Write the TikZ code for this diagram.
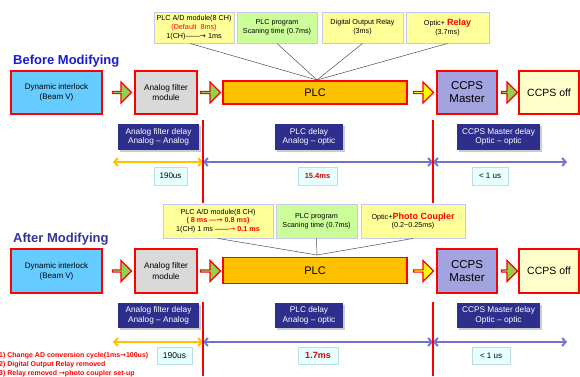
\documentclass[tikz,border=0pt]{standalone}
\usepackage{fontspec}
\setmainfont{Liberation Sans}
\newfontfamily\symfont{DejaVu Sans}
\usetikzlibrary{shapes.arrows,shadows,arrows.meta}
\definecolor{ylw}{HTML}{FFFF99}
\definecolor{grn}{HTML}{CCFF99}
\definecolor{lav}{HTML}{C8C8E8}
\definecolor{skyb}{HTML}{66CCFF}
\definecolor{gryb}{HTML}{D9D9D9}
\definecolor{plcc}{HTML}{FFC000}
\definecolor{mstc}{HTML}{A3A3E0}
\definecolor{offc}{HTML}{FFFFCC}
\definecolor{agrn}{HTML}{92D050}
\definecolor{ayel}{HTML}{FFFF00}
\definecolor{navy}{HTML}{2E2E8C}
\definecolor{barr}{HTML}{7373CF}
\definecolor{oarr}{HTML}{FFC000}
\definecolor{befc}{HTML}{1A1AD6}
\definecolor{aftc}{HTML}{333399}
\definecolor{valf}{HTML}{E6FFFF}
\definecolor{valb}{HTML}{BFDCE6}
\newcommand{\rarr}{{\symfont\char"2192}}
\begin{document}
\begin{tikzpicture}[x=1pt,y=-1pt,
  topbox/.style={draw=lav, line width=0.9pt, fill=ylw, align=center, inner sep=0pt,
     font=\fontsize{7.2}{8.8}\selectfont},
  mainbox/.style={draw=red, line width=1.5pt, align=center, inner sep=0pt},
  barrow/.style={single arrow, draw=red, line width=1.2pt, inner sep=0pt,
     minimum width=21pt, single arrow head extend=5pt, single arrow tip angle=90,
     fill=agrn},
  delaybox/.style={fill=navy, text=white, align=center, inner sep=0pt,
     font=\fontsize{8.3}{9.6}\selectfont,
     drop shadow={shadow xshift=1.5pt, shadow yshift=-1.5pt, fill=black!25, opacity=0.8}},
  valbox/.style={fill=valf, draw=valb, line width=0.5pt, align=center, inner sep=0pt,
     font=\fontsize{8}{9}\selectfont,
     drop shadow={shadow xshift=1.2pt, shadow yshift=-1.2pt, fill=black!20, opacity=0.8}},
  redline/.style={draw=red, line width=1.2pt},
  thin/.style={draw=black!70, line width=0.5pt},
  darr/.style={line width=2pt, {Straight Barb[length=3.5pt,width=8pt]}-{Straight Barb[length=3.5pt,width=8pt]}},
  title/.style={font=\fontsize{13}{15}\selectfont\bfseries, anchor=west, inner sep=0pt},
  note/.style={anchor=base west, inner sep=0pt, text=red, font=\fontsize{7}{8}\selectfont\bfseries}
]
\useasboundingbox (0,0) rectangle (580,376);

% ================= BEFORE =================
\node[topbox, minimum width=80pt, minimum height=31pt] (ua) at (194,27.5)
  {PLC A/D module(8 CH)\\ \textcolor{red}{(Default\ \ 8ms)}\\ 1(CH)------\rarr\ 1ms};
\node[topbox, fill=grn, minimum width=80pt, minimum height=31pt] (ub) at (277,27.5)
  {PLC program\\ Scaning time (0.7ms)};
\node[topbox, minimum width=81pt, minimum height=31pt] (uc) at (362.5,27.5)
  {Digital Output Relay\\ (3ms)};
\node[topbox, minimum width=83pt, minimum height=31pt] (ud) at (447.5,27.5)
  {Optic+ {\color{red}\bfseries\fontsize{9}{10}\selectfont Relay}\\ (3.7ms)};

\node[title, text=befc] (bt) at (13,61.5) {Before Modifying};

\node[mainbox, fill=skyb, minimum width=91pt, minimum height=43pt,
  font=\fontsize{8}{10}\selectfont] (u1) at (56.5,92.5) {Dynamic interlock\\ (Beam V)};
\node[mainbox, fill=gryb, minimum width=62pt, minimum height=43pt,
  font=\fontsize{8.3}{10.5}\selectfont] (u2) at (166,92.5) {Analog filter\\ module};
\node[mainbox, fill=plcc, minimum width=184pt, minimum height=23pt,
  font=\fontsize{11}{13}\selectfont] (u3) at (315,92.5) {PLC};
\node[mainbox, fill=mstc, minimum width=60pt, minimum height=43pt,
  font=\fontsize{11.5}{13}\selectfont] (u4) at (467,92.5) {CCPS\\ Master};
\node[mainbox, fill=offc, minimum width=60pt, minimum height=43pt,
  font=\fontsize{10.5}{12}\selectfont] (u5) at (549,92.5) {CCPS off};

\node[barrow, minimum height=19pt] (ua1) at (121.5,92.5) {};
\node[barrow, minimum height=20pt] (ua2) at (210,92.5) {};
\node[barrow, fill=ayel, minimum height=20pt] (ua3) at (423,92.5) {};
\node[barrow, minimum height=16pt] (ua4) at (509,92.5) {};

\coordinate (uj) at (317,80);
\draw[thin] ([xshift=-4pt]ua.south) -- (uj);
\draw[thin] (ub.south) -- (uj);
\draw[thin] (uc.south) -- (uj);
\draw[thin] (ud.south) -- (uj);

\node[delaybox, minimum width=81pt, minimum height=26pt] (ud1) at (158.5,137)
  {Analog filter delay\\ Analog -- Analog};
\node[delaybox, minimum width=68pt, minimum height=26pt] (ud2) at (309,137)
  {PLC delay\\ Analog -- optic};
\node[delaybox, minimum width=83pt, minimum height=26pt] (ud3) at (498.5,137)
  {CCPS Master delay\\ Optic -- optic};

\coordinate (ur1t) at (203,120); \coordinate (ur1b) at (203,203);
\coordinate (ur2t) at (433,120); \coordinate (ur2b) at (433,203);
\coordinate (uy0) at (113,162); \coordinate (uy1) at (203,162);
\coordinate (uy2) at (433,162); \coordinate (uy3) at (567,162);
\draw[darr, oarr] (uy0) -- (uy1);
\draw[darr, barr] (uy1) -- (uy2);
\draw[darr, barr] (uy2) -- (uy3);
\draw[redline] (ur1t) -- (ur1b);
\draw[redline] (ur2t) -- (ur2b);

\node[valbox, minimum width=33pt, minimum height=18pt] (uv1) at (170.5,176) {190us};
\node[valbox, minimum width=39pt, minimum height=18pt, text=red!85!black,
  font=\fontsize{7.5}{9}\selectfont\bfseries] (uv2) at (317.5,176) {15.4ms};
\node[valbox, minimum width=36pt, minimum height=18pt] (uv3) at (490,176) {< 1 us};

% ================= AFTER =================
\node[topbox, minimum width=110pt, minimum height=34pt] (la) at (218,221)
  {PLC A/D module(8 CH)\\ {\color{red}\bfseries ( 8 ms ---\rarr\ 0.8 ms)}\\
   1(CH) 1 ms ------{\color{red}\rarr\ \bfseries 0.1 ms}};
\node[topbox, fill=grn, minimum width=81pt, minimum height=34pt] (lb) at (316.5,221)
  {PLC program\\ Scaning time (0.7ms)};
\node[topbox, minimum width=104pt, minimum height=34pt] (lc) at (413,221)
  {Optic+{\color{red}\bfseries\fontsize{9}{10}\selectfont Photo Coupler}\\ (0.2\textasciitilde0.25ms)};

\node[title, text=aftc] (at) at (13,239.5) {After Modifying};

\node[mainbox, fill=skyb, minimum width=91pt, minimum height=44pt,
  font=\fontsize{8}{10}\selectfont] (l1) at (56.5,271) {Dynamic interlock\\ (Beam V)};
\node[mainbox, fill=gryb, minimum width=62pt, minimum height=44pt,
  font=\fontsize{8.3}{10.5}\selectfont] (l2) at (166,271) {Analog filter\\ module};
\node[mainbox, fill=plcc, minimum width=184pt, minimum height=26pt,
  font=\fontsize{11}{13}\selectfont] (l3) at (315,270.5) {PLC};
\node[mainbox, fill=mstc, minimum width=60pt, minimum height=44pt,
  font=\fontsize{11.5}{13}\selectfont] (l4) at (467,271) {CCPS\\ Master};
\node[mainbox, fill=offc, minimum width=60pt, minimum height=44pt,
  font=\fontsize{10.5}{12}\selectfont] (l5) at (549,271) {CCPS off};

\node[barrow, minimum height=19pt] (la1) at (121.5,271) {};
\node[barrow, minimum height=20pt] (la2) at (210,271) {};
\node[barrow, fill=ayel, minimum height=20pt] (la3) at (423,271) {};
\node[barrow, minimum height=16pt] (la4) at (509,271) {};

\coordinate (lj) at (317,255);
\draw[thin] (la.south) -- (lj);
\draw[thin] (lb.south) -- (lj);
\draw[thin] (lc.south) -- (lj);

\node[delaybox, minimum width=81pt, minimum height=25pt] (ld1) at (158.5,315.5)
  {Analog filter delay\\ Analog -- Analog};
\node[delaybox, minimum width=68pt, minimum height=25pt] (ld2) at (309,315.5)
  {PLC delay\\ Analog -- optic};
\node[delaybox, minimum width=83pt, minimum height=25pt] (ld3) at (498.5,315.5)
  {CCPS Master delay\\ Optic -- optic};

\coordinate (lr1t) at (203,302); \coordinate (lr1b) at (203,376);
\coordinate (lr2t) at (433,302); \coordinate (lr2b) at (433,376);
\coordinate (ly0) at (113,342); \coordinate (ly1) at (203,342);
\coordinate (ly2) at (433,342); \coordinate (ly3) at (567,342);
\draw[darr, oarr] (ly0) -- (ly1);
\draw[darr, barr] (ly1) -- (ly2);
\draw[darr, barr] (ly2) -- (ly3);
\draw[redline] (lr1t) -- (lr1b);
\draw[redline] (lr2t) -- (lr2b);

\node[valbox, minimum width=35pt, minimum height=17pt,
  font=\fontsize{8.5}{9}\selectfont] (lv1) at (174.5,355.5) {190us};
\node[valbox, minimum width=40pt, minimum height=17pt, text=red!85!black,
  font=\fontsize{9}{10}\selectfont\bfseries] (lv2) at (318,355.5) {1.7ms};
\node[valbox, minimum width=38pt, minimum height=17pt] (lv3) at (491,355.5) {< 1 us};

\node[note] (n1) at (-1,357) {1) Change AD conversion cycle(1ms\rarr100us)};
\node[note] (n2) at (-1,366) {2) Digital Output Relay removed};
\node[note] (n3) at (-1,375) {3) Relay removed \rarr photo coupler set-up};
\end{tikzpicture}
\end{document}
